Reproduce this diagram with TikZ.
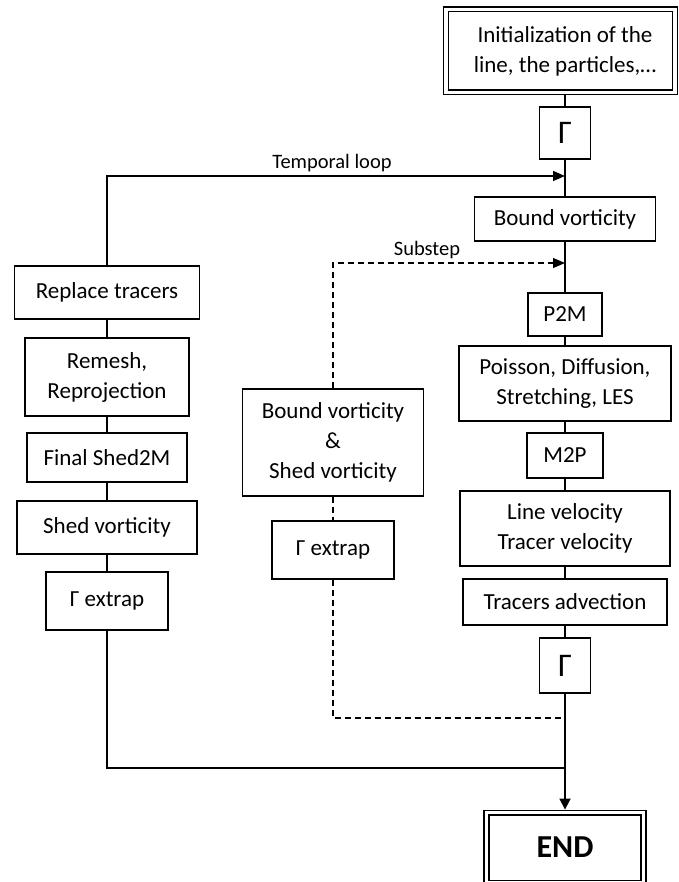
\documentclass[tikz,border=0pt]{standalone}
\usepackage{fontspec}
\setmainfont{Carlito}
\usetikzlibrary{arrows.meta,backgrounds}
\begin{document}
\begin{tikzpicture}[x=1pt,y=-1pt,
  box/.style={draw, line width=1.2pt, align=center, inner sep=0pt, font=\fontsize{23}{30}\selectfont},
  dbox/.style={draw, line width=1.2pt, double, double distance=3.6pt, inner sep=0pt},
  mainline/.style={line width=1.8pt},
  thinline/.style={line width=1.3pt},
  dashline/.style={line width=1.2pt, dash pattern=on 6pt off 4pt},
  arr/.style={-{Triangle[length=12pt,width=10pt]}},
  lbl/.style={font=\fontsize{20.5}{24}\selectfont, inner sep=0pt},
  gam/.style={font=\fontsize{33}{36}\selectfont}
]
\useasboundingbox (0,0) rectangle (678,882);

% right column
\node[dbox, minimum width=229.4pt, minimum height=83pt] (init) at (560.5,51) {};
\node[box, draw=none] (inittxt) at (565,51) {Initialization of the\\line, the particles,…};
\node[box, gam, minimum width=51pt, minimum height=52pt] (g1) at (565,133) {Γ};
\node[box, minimum width=181pt, minimum height=44pt] (bv) at (565,219) {Bound vorticity};
\node[box, minimum width=74pt, minimum height=43pt] (p2m) at (565,314.5) {P2M};
\node[box, minimum width=212pt, minimum height=75pt] (pois) at (565,383.5) {Poisson, Diffusion,\\Stretching, LES};
\node[box, minimum width=76pt, minimum height=45pt] (m2p) at (565,455.5) {M2P};
\node[box, minimum width=210pt, minimum height=75pt] (lv) at (565,528.5) {Line velocity\\Tracer velocity};
\node[box, minimum width=204pt, minimum height=46pt] (ta) at (565,602) {Tracers advection};
\node[box, gam, minimum width=51pt, minimum height=55pt] (g2) at (565,665.5) {Γ};
\node[dbox, line width=1.3pt, minimum width=157pt, minimum height=70pt, font=\fontsize{32}{36}\selectfont\bfseries] (end) at (565,847.6) {END};

% left column
\node[box, minimum width=185pt, minimum height=53pt] (rt) at (107,292.5) {Replace tracers};
\node[box, minimum width=164pt, minimum height=78pt] (rm) at (107,377) {Remesh,\\Reprojection};
\node[box, minimum width=160pt, minimum height=49pt] (fs) at (107,457.5) {Final Shed2M};
\node[box, minimum width=180pt, minimum height=53pt] (sv) at (107,527.5) {Shed vorticity};
\node[box, minimum width=122pt, minimum height=58pt] (ge1) at (107,601) {Γ extrap};

% middle column
\node[box, minimum width=181pt, minimum height=107pt] (bs) at (333,442.5) {Bound vorticity\\\&\\Shed vorticity};
\node[box, minimum width=122pt, minimum height=58pt] (ge2) at (333,550) {Γ extrap};

% labels
\node[lbl] (tlab) at (332,163) {Temporal loop};
\node[lbl] (slab) at (427,250) {Substep};

% junction points on the main line
\coordinate (tl) at (565,176);
\coordinate (ss) at (565,263);
\coordinate (dj) at (565,718);
\coordinate (jn) at (565,768);

\begin{scope}[on background layer]
\draw[mainline] (g1.north |- init.south) -- (g1.north);
\draw[mainline] (g1.south) -- (bv.north);
\draw[mainline] (bv.south) -- (p2m.north);
\draw[mainline] (p2m.south) -- (pois.north);
\draw[mainline] (pois.south) -- (m2p.north);
\draw[mainline] (m2p.south) -- (lv.north);
\draw[mainline] (lv.south) -- (ta.north);
\draw[mainline] (ta.south) -- (g2.north);
\draw[mainline, -{Triangle[length=11pt,width=11pt]}, shorten >=2.4pt] (g2.south) -- (end.north);
\end{scope}

% temporal loop
\draw[thinline, arr] (rt.north) |- (tl);
\draw[thinline] (rt.south) -- (rm.north);
\draw[thinline] (rm.south) -- (fs.north);
\draw[thinline] (fs.south) -- (sv.north);
\draw[thinline] (sv.south) -- (ge1.north);
\draw[thinline] (ge1.south) |- (jn);

% substep loop
\draw[dashline, arr] (bs.north) |- (ss);
\draw[dashline] (bs.south) -- (ge2.north);
\draw[dashline] (ge2.south) |- (dj);
\end{tikzpicture}
\end{document}
